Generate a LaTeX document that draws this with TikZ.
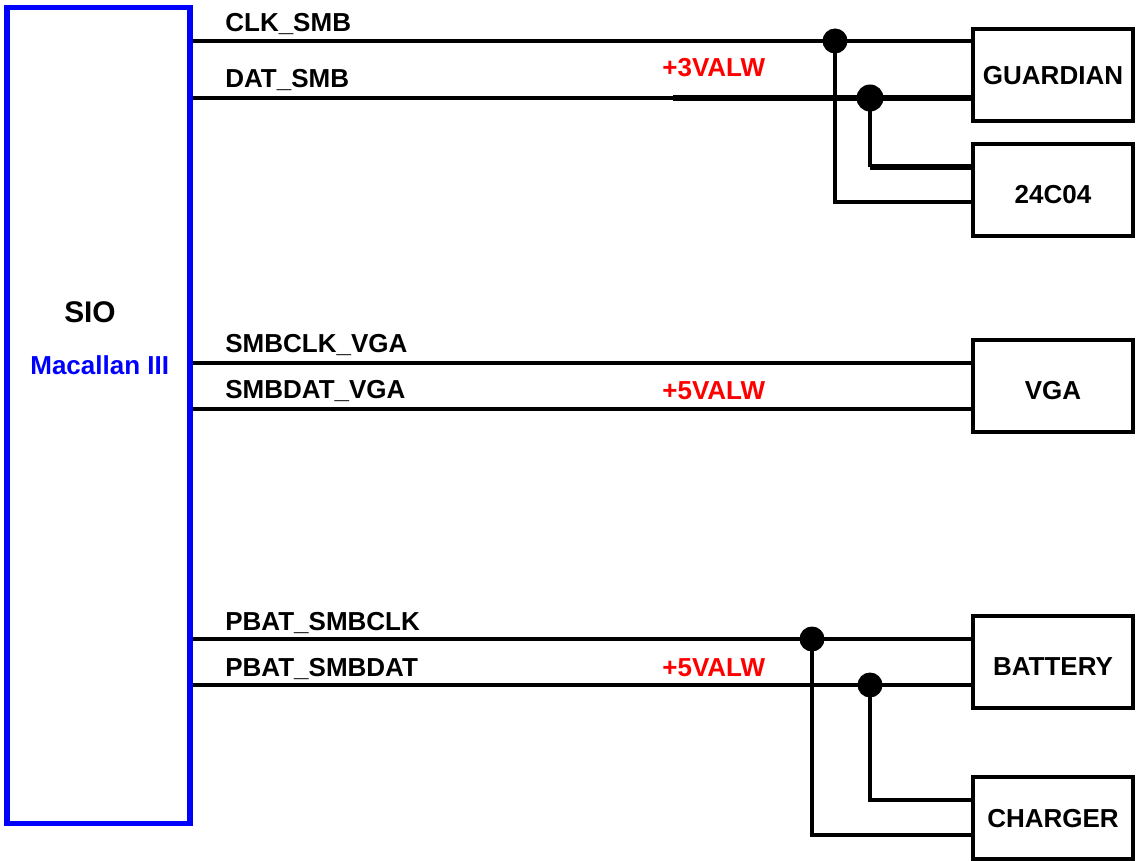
\documentclass[tikz,border=0pt]{standalone}
\usepackage{fontspec}
\setmainfont{Liberation Sans}
\usepackage{tikz}
\usetikzlibrary{positioning,calc}
\usepackage{xcolor}
\definecolor{siocol}{HTML}{0000FF}
\definecolor{railcol}{HTML}{FF0000}

\begin{document}
\begin{tikzpicture}[x=0.02cm, y=-0.02cm,
  every node/.style={font=\fontsize{14.8}{17}\selectfont\bfseries, inner sep=0pt},
  devbox/.style={draw, line width=1.8pt, minimum width=3.2cm, minimum height=1.84cm,
    text height=15.5pt, text depth=0pt},
  wire/.style={line width=1.9pt},
  bus/.style={line width=2.9pt},
  jdot/.style={circle, fill=black, minimum size=0.5cm},
  sig/.style={anchor=base west},
  rail/.style={anchor=base west, railcol}]
  \useasboundingbox (0,0) rectangle (1136,861);
  % host
  \node[draw=siocol, line width=2.9pt, minimum width=3.66cm, minimum height=16.34cm] (sio) at (98.5,415.5) {};
  \node[anchor=base, font=\fontsize{17}{20}\selectfont\bfseries] (sioname) at (90,323) {SIO};
  \node[anchor=base west, siocol] (siochip) at (30,375) {Macallan III};
  % devices
  \node[devbox, text height=10.7pt] (guard) at (1053,75)  {GUARDIAN};
  \node[devbox] (eep)   at (1053,190) {24C04};
  \node[devbox] (vga)   at (1053,386) {VGA};
  \node[devbox] (batt)  at (1053,662) {BATTERY};
  \node[devbox, minimum height=1.64cm, text height=11pt] (chg) at (1053,818) {CHARGER};
  % junctions
  \node[jdot] (j1) at (835,41) {};
  \node[jdot, minimum size=0.54cm] (j2) at (870,98) {};
  \node[jdot] (j3) at (812,639) {};
  \node[jdot] (j4) at (870,685) {};
  \coordinate (eclk) at (973,202);
  \coordinate (edat) at (973,167);
  \coordinate (cclk) at (973,835);
  \coordinate (cdat) at (973,800);
  \coordinate (pup1) at (673,98);
  % SMB
  \draw[wire] (sio.east |- j1) -- (j1.center) -- (guard.west |- j1);
  \draw[wire] (sio.east |- j2) -- (pup1);
  \draw[bus] (pup1) -- (j2.center) -- (guard.west |- j2);
  \draw[wire] (j1.center) |- (eclk);
  \draw[wire] (j2.center) -- (j2.center |- edat);
  \draw[bus] (j2.center |- edat) -- (edat);
  \node[sig] (lclk) at (225,31.5) {CLK\_SMB};
  \node[sig] (ldat) at (225,88) {DAT\_SMB};
  \node[rail] (r1) at (662,77) {+3VALW};
  % VGA
  \coordinate (vclk) at (973,363);
  \coordinate (vdat) at (973,409);
  \draw[wire] (sio.east |- vclk) -- (vclk);
  \draw[wire] (sio.east |- vdat) -- (vdat);
  \node[sig] (lvclk) at (225,352.5) {SMBCLK\_VGA};
  \node[sig] (lvdat) at (225,398.5) {SMBDAT\_VGA};
  \node[rail] (r2) at (662,399) {+5VALW};
  % battery
  \draw[wire] (sio.east |- j3) -- (j3.center) -- (batt.west |- j3);
  \draw[wire] (sio.east |- j4) -- (j4.center) -- (batt.west |- j4);
  \draw[wire] (j3.center) |- (cclk);
  \draw[wire] (j4.center) |- (cdat);
  \node[sig] (lbclk) at (225,630) {PBAT\_SMBCLK};
  \node[sig] (lbdat) at (225,676) {PBAT\_SMBDAT};
  \node[rail] (r3) at (662,676) {+5VALW};
\end{tikzpicture}
\end{document}
